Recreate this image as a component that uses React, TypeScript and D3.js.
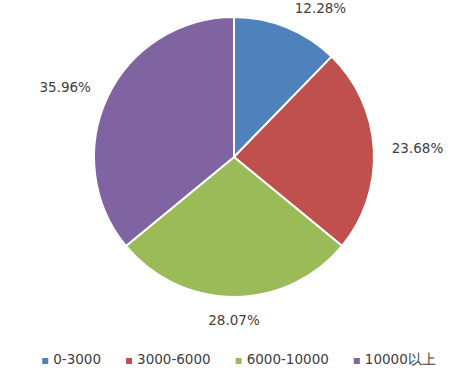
import { useEffect, useRef } from 'react';
import * as d3 from 'd3';

const categories = ['0-3000', '3000-6000', '6000-10000', '10000以上'];
const shares = [12.28, 23.68, 28.07, 35.96];
const colors = ['#4F81BD', '#C0504D', '#9BBB59', '#8064A2'];

const WIDTH = 454;
const HEIGHT = 372;

export default function App() {
  const svgRef = useRef<SVGSVGElement>(null);

  useEffect(() => {
    const root = d3.select(svgRef.current);
    root.selectAll('*').remove();

    const cx = 234;
    const cy = 157;
    const radius = 140;
    const font = '"DejaVu Sans", sans-serif';
    const fontSize = 13.5;

    const data = categories.map((c, i) => ({ name: c, value: shares[i], color: colors[i] }));

    const pie = d3.pie<any>().sort(null).value(d => d.value);
    const arcs = pie(data);
    const arc = d3.arc<any>().innerRadius(0).outerRadius(radius);

    const g = root.append('g').attr('transform', `translate(${cx},${cy})`);

    g.selectAll('path')
      .data(arcs)
      .join('path')
      .attr('d', arc)
      .attr('fill', d => d.data.color)
      .attr('stroke', '#fff')
      .attr('stroke-width', 2)
      .attr('stroke-linejoin', 'miter');

    // Data labels placed outside the slice edge
    const labelR = radius + 16;
    arcs.forEach(d => {
      const a = (d.startAngle + d.endAngle) / 2;
      const t = g.append('text')
        .attr('font-family', font)
        .attr('font-size', fontSize)
        .attr('fill', '#404040')
        .attr('text-anchor', 'middle')
        .text(`${d.data.value.toFixed(2)}%`);
      const w = (t.node() as SVGTextElement).getComputedTextLength();
      const hh = 7;
      const sx = Math.sin(a);
      const px = labelR * sx + (Math.abs(sx) < 0.05 ? 0 : Math.sign(sx) * (w / 2 + 2));
      let py = -labelR * Math.cos(a) - Math.cos(a) * hh;
      py = Math.max(py, -cy + hh + 1);
      t.attr('x', px).attr('y', py + 5);
    });

    // Legend
    const legend = root.append('g');
    const items = legend.selectAll('g')
      .data(data)
      .join('g');
    items.append('rect')
      .attr('width', 6)
      .attr('height', 6)
      .attr('y', -6)
      .attr('fill', d => d.color);
    items.append('text')
      .attr('x', 11)
      .attr('font-family', font)
      .attr('font-size', fontSize)
      .attr('fill', '#404040')
      .text(d => d.name);

    const gap = 25;
    let x = 0;
    items.each(function () {
      const el = d3.select(this);
      el.attr('transform', `translate(${x},0)`);
      const w = (el.select('text').node() as SVGTextElement).getComputedTextLength();
      x += 11 + w + gap;
    });
    const total = x - gap;
    legend.attr('transform', `translate(${239 - total / 2},${364})`);
  }, []);

  return (
    <svg
      ref={svgRef}
      width={WIDTH}
      height={HEIGHT}
      style={{ position: 'absolute', left: 0, top: 0, background: '#fff' }}
    />
  );
}
